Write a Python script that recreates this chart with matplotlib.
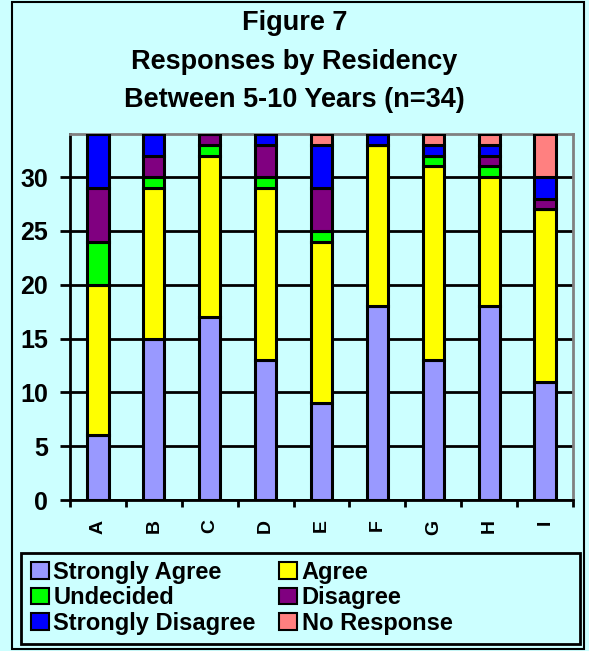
import matplotlib
matplotlib.use('agg')
import numpy as np
import matplotlib.pyplot as plt
from matplotlib.patches import Rectangle, Patch

plt.rcParams['font.family'] = ['Liberation Sans', 'DejaVu Sans']
plt.rcParams['font.weight'] = 'bold'

categories = ['A', 'B', 'C', 'D', 'E', 'F', 'G', 'H', 'I']
strongly_agree = [6, 15, 17, 13, 9, 18, 13, 18, 11]
agree = [14, 14, 15, 16, 15, 15, 18, 12, 16]
undecided = [4, 1, 1, 1, 1, 0, 1, 1, 0]
disagree = [5, 2, 1, 3, 4, 0, 0, 1, 1]
strongly_disagree = [5, 2, 0, 1, 4, 1, 1, 1, 2]
no_response = [0, 0, 0, 0, 1, 0, 1, 1, 4]

series = [
    ('Strongly Agree', strongly_agree, '#9999FF'),
    ('Agree', agree, '#FFFF00'),
    ('Undecided', undecided, '#00FF00'),
    ('Disagree', disagree, '#800080'),
    ('Strongly Disagree', strongly_disagree, '#0000FF'),
    ('No Response', no_response, '#FF8080'),
]

bg = '#CCFFFF'
fig = plt.figure(figsize=(5.89, 6.51), dpi=100, facecolor=bg)
W, H = 589, 651

# outer border
fig.patches.append(Rectangle((12 / W, 1 - 649 / H), 572 / W, 647 / H,
                             transform=fig.transFigure, fill=False,
                             edgecolor='black', linewidth=1.5))

ax = fig.add_axes([70 / W, 1 - 500 / H, 503 / W, 366 / H])
ax.set_facecolor(bg)

x = np.arange(len(categories))
bottom = np.zeros(len(categories))
for name, vals, col in series:
    vals = np.array(vals)
    ax.bar(x, vals, 0.38, bottom=bottom, color=col, edgecolor='black',
           linewidth=2.2, zorder=3)
    bottom += vals

ax.set_xlim(-0.5, len(categories) - 0.5)
ax.set_ylim(0, 34)
ax.set_yticks(range(0, 31, 5))
ax.yaxis.grid(True, color='black', linewidth=2, zorder=0)
ax.tick_params(axis='y', length=7, width=2, labelsize=18, pad=9)

# x ticks between categories, labels centered
ax.set_xticks(np.arange(-0.5, len(categories), 1.0))
ax.set_xticklabels([])
ax.set_xticks(x, minor=True)
ax.set_xticklabels(categories, minor=True, rotation=90, fontsize=14,
                   fontweight='bold')
ax.tick_params(axis='x', which='major', length=5, width=2)
ax.tick_params(axis='x', which='minor', length=0, pad=14)

ax.spines['left'].set_linewidth(2)
ax.spines['bottom'].set_linewidth(2)
ax.spines['top'].set_color('gray')
ax.spines['right'].set_color('gray')
ax.spines['top'].set_linewidth(2)
ax.spines['right'].set_linewidth(2)

fig.text(0.5, 1 - 23 / H, 'Figure 7', ha='center', va='center', fontsize=19.5,
         fontweight='bold')
fig.text(0.5, 1 - 62 / H, 'Responses by Residency', ha='center', va='center',
         fontsize=19.5, fontweight='bold')
fig.text(0.5, 1 - 100 / H, 'Between 5-10 Years (n=34)', ha='center',
         va='center', fontsize=19.5, fontweight='bold')

# legend box
fig.patches.append(Rectangle((21 / W, 1 - 644 / H), 559 / W, 91 / H,
                             transform=fig.transFigure, facecolor=bg,
                             edgecolor='black', linewidth=2))

# legend filled row-wise like the original
order = [0, 2, 4, 1, 3, 5]
handles = [Patch(facecolor=series[i][2], edgecolor='black', linewidth=1.5,
                 label=series[i][0]) for i in order]
leg = fig.legend(handles=handles, ncol=2, loc='upper left',
                 bbox_to_anchor=(31 / W, 1 - 561 / H),
                 frameon=False, handlelength=0.75, handleheight=0.7,
                 handletextpad=0.2, labelspacing=0.1, borderaxespad=0,
                 borderpad=0, columnspacing=1.0,
                 prop={'weight': 'bold', 'size': 17})

fig.savefig('out.png', dpi=100, facecolor=bg)
